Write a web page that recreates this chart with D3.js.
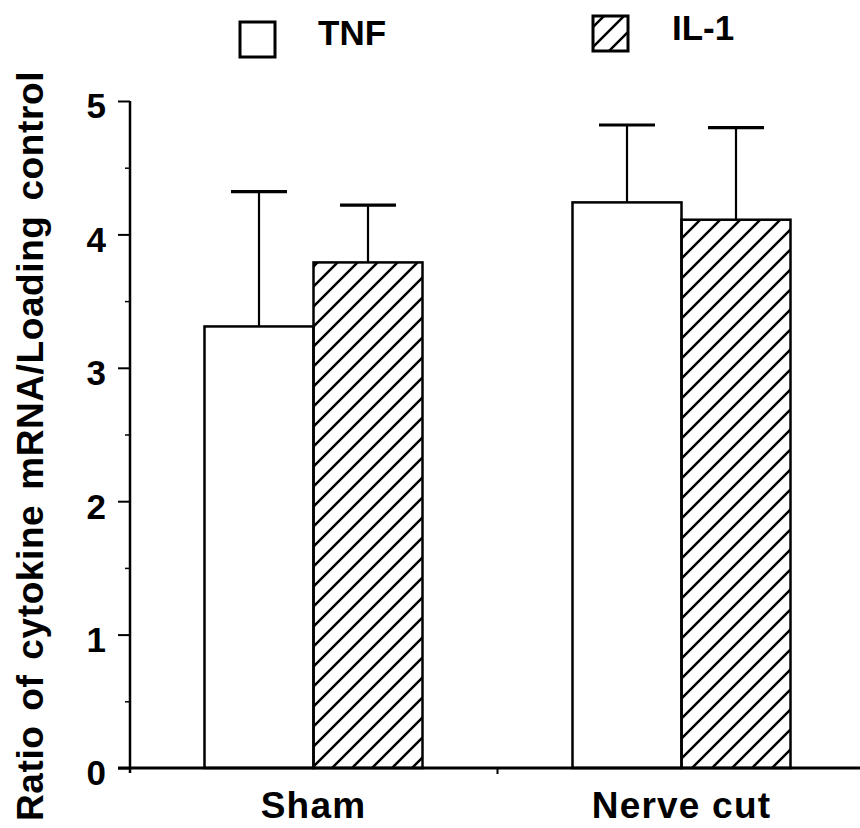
<!DOCTYPE html>
<html>
<head>
<meta charset="utf-8">
<script src="https://cdn.jsdelivr.net/npm/d3@7"></script>
<style>
  html, body { margin: 0; padding: 0; background: #fff; }
  svg { display: block; font-family: "Liberation Sans", Arial, Helvetica, sans-serif; font-weight: bold; }
</style>
</head>
<body>
<svg id="chart" width="860" height="828"></svg>
<script>
// Cytokine mRNA ratio, mean + SEM, by treatment group
const groups = ["Sham", "Nerve cut"];
const seriesNames = ["TNF", "IL-1"];
const tnfMean = [3.31, 4.24];
const tnfSem = [1.01, 0.58];
const il1Mean = [3.79, 4.11];
const il1Sem = [0.43, 0.69];
const yTicks = [0, 1, 2, 3, 4, 5];
const yMinorTicks = [0.5, 1.5, 2.5, 3.5, 4.5];

const rows = [];
groups.forEach((g, i) => {
  rows.push({ group: g, series: "TNF", mean: tnfMean[i], sem: tnfSem[i] });
  rows.push({ group: g, series: "IL-1", mean: il1Mean[i], sem: il1Sem[i] });
});

const svg = d3.select("#chart");

const defs = svg.append("defs");
const hatch = defs.append("pattern")
  .attr("id", "hatch")
  .attr("patternUnits", "userSpaceOnUse")
  .attr("width", 20).attr("height", 20);
hatch.append("path")
  .attr("d", "M-5,5 L5,-5 M0,20 L20,0 M15,25 L25,15")
  .attr("stroke", "#000").attr("stroke-width", 2.5);

const y = d3.scaleLinear().domain([0, 5]).range([768, 101]);
const x = d3.scaleBand().domain(groups).range([129.5, 865.5]).padding(0);
const barW = 109;
const xs = d3.scaleBand().domain(seriesNames)
  .range([x.bandwidth() / 2 - barW, x.bandwidth() / 2 + barW]).padding(0);

const fillFor = s => s === "TNF" ? "#fff" : "url(#hatch)";

// bars
const bars = svg.append("g");
bars.selectAll("rect").data(rows).join("rect")
  .attr("x", d => x(d.group) + xs(d.series))
  .attr("y", d => y(d.mean))
  .attr("width", xs.bandwidth())
  .attr("height", d => y(0) - y(d.mean))
  .attr("fill", d => fillFor(d.series))
  .attr("stroke", "#000")
  .attr("stroke-width", 2.5);

// error bars (upper half only)
const err = svg.append("g").attr("stroke", "#000");
const cx = d => x(d.group) + xs(d.series) + xs.bandwidth() / 2;
err.selectAll("line.stem").data(rows).join("line")
  .attr("class", "stem")
  .attr("x1", cx).attr("x2", cx)
  .attr("y1", d => y(d.mean)).attr("y2", d => y(d.mean + d.sem))
  .attr("stroke-width", 2.2);
err.selectAll("line.cap").data(rows).join("line")
  .attr("class", "cap")
  .attr("x1", d => cx(d) - 28).attr("x2", d => cx(d) + 28)
  .attr("y1", d => y(d.mean + d.sem)).attr("y2", d => y(d.mean + d.sem))
  .attr("stroke-width", 3.2);

// y axis
const yAxisG = svg.append("g").attr("transform", "translate(130,0)");
yAxisG.call(d3.axisLeft(y).tickValues(yTicks).tickSize(12).tickFormat(d3.format("d")))
  .call(g => g.select(".domain").remove())
  .call(g => g.selectAll(".tick line").attr("stroke", "#000").attr("stroke-width", 2))
  .call(g => g.selectAll(".tick text")
    .attr("x", -24).attr("dy", "0.48em")
    .attr("font-size", 35).attr("font-weight", "bold")
    .attr("font-family", "Liberation Sans, Arial, sans-serif")
    .attr("fill", "#000"));
yAxisG.append("g")
  .call(d3.axisLeft(y).tickValues(yMinorTicks).tickSize(5).tickFormat(""))
  .call(g => g.select(".domain").remove())
  .call(g => g.selectAll(".tick line").attr("stroke", "#000").attr("stroke-width", 1.5));
yAxisG.append("line")
  .attr("x1", 0).attr("x2", 0).attr("y1", y(5)).attr("y2", y(0) + 5)
  .attr("stroke", "#000").attr("stroke-width", 2.5);

// x axis
const xAxisG = svg.append("g").attr("transform", `translate(0,${y(0)})`);
xAxisG.append("line")
  .attr("x1", 118).attr("x2", 860).attr("y1", 0).attr("y2", 0)
  .attr("stroke", "#000").attr("stroke-width", 3.2);
xAxisG.selectAll("line.bound").data(groups.slice(1)).join("line")
  .attr("class", "bound")
  .attr("x1", d => x(d)).attr("x2", d => x(d))
  .attr("y1", 0).attr("y2", 6)
  .attr("stroke", "#000").attr("stroke-width", 2);
xAxisG.call(d3.axisBottom(x).tickSize(0).tickPadding(0))
  .call(g => g.select(".domain").remove())
  .call(g => g.selectAll(".tick text")
    .attr("y", 50).attr("dy", 0)
    .attr("font-size", 37).attr("font-weight", "bold")
    .attr("letter-spacing", 1.2)
    .attr("font-family", "Liberation Sans, Arial, sans-serif")
    .attr("fill", "#000"));

// y axis title
svg.append("text")
  .attr("transform", "translate(43,446) rotate(-90)")
  .attr("text-anchor", "middle")
  .attr("font-size", 37)
  .attr("letter-spacing", 0.6)
  .attr("word-spacing", 4)
  .attr("fill", "#000")
  .text("Ratio of cytokine mRNA/Loading control");

// legend
const legendItems = [
  { name: seriesNames[0], box: [240, 22], text: [318, 45] },
  { name: seriesNames[1], box: [593, 16], text: [672, 40] }
];
const legend = svg.append("g");
legendItems.forEach(it => {
  legend.append("rect")
    .attr("x", it.box[0]).attr("y", it.box[1])
    .attr("width", 35).attr("height", 35)
    .attr("fill", fillFor(it.name))
    .attr("stroke", "#000").attr("stroke-width", 3);
  legend.append("text")
    .attr("x", it.text[0]).attr("y", it.text[1])
    .attr("font-size", 35)
    .attr("fill", "#000")
    .text(it.name);
});
</script>
</body>
</html>
